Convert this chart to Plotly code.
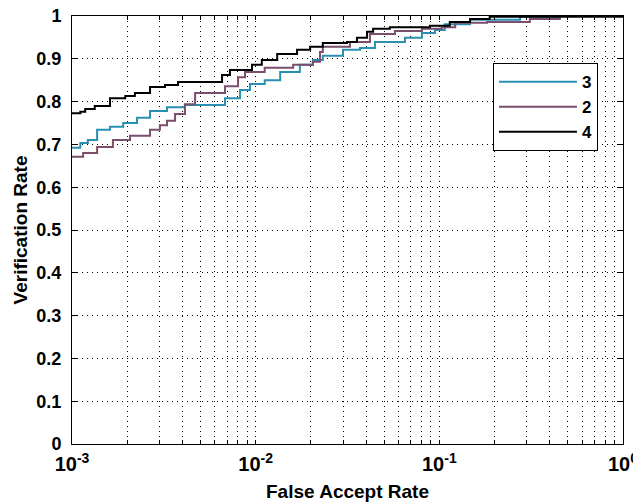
import plotly.graph_objects as go

# ---- data ----
far3 = [0.001, 0.00111, 0.00122, 0.00137, 0.00161, 0.00190, 0.00226, 0.00266, 0.00329, 0.00412,
        0.00681, 0.00822, 0.00931, 0.0112, 0.0136, 0.0174, 0.0205, 0.0232, 0.0299, 0.0370,
        0.0446, 0.0650, 0.0804, 0.0946, 0.107, 0.147, 0.275, 0.453, 1.0]
vr3 = [0.692, 0.703, 0.710, 0.734, 0.741, 0.750, 0.762, 0.778, 0.787, 0.792,
       0.808, 0.827, 0.841, 0.850, 0.869, 0.886, 0.897, 0.907, 0.921, 0.925,
       0.939, 0.949, 0.960, 0.967, 0.981, 0.991, 0.998, 1.0, 1.0]

far2 = [0.001, 0.00115, 0.00137, 0.00167, 0.00207, 0.00266, 0.00301, 0.00329, 0.00364, 0.00412,
        0.00468, 0.00681, 0.00802, 0.00875, 0.0112, 0.0160, 0.0205, 0.0224, 0.0232, 0.0326,
        0.0419, 0.0573, 0.0804, 0.103, 0.122, 0.182, 0.311, 0.453, 1.0]
vr2 = [0.671, 0.680, 0.694, 0.710, 0.720, 0.734, 0.745, 0.755, 0.771, 0.794,
       0.820, 0.836, 0.857, 0.869, 0.879, 0.886, 0.893, 0.916, 0.928, 0.939,
       0.958, 0.965, 0.970, 0.974, 0.984, 0.986, 0.993, 1.0, 1.0]

far4 = [0.001, 0.00111, 0.00118, 0.00133, 0.00161, 0.00195, 0.00220, 0.00266, 0.00321, 0.00378,
        0.00656, 0.00724, 0.00955, 0.0108, 0.0131, 0.0168, 0.0198, 0.0232, 0.0314, 0.0356,
        0.0404, 0.0436, 0.0538, 0.0889, 0.114, 0.147, 0.188, 1.0]
vr4 = [0.773, 0.776, 0.783, 0.790, 0.808, 0.813, 0.820, 0.834, 0.839, 0.846,
       0.862, 0.874, 0.886, 0.897, 0.911, 0.921, 0.928, 0.937, 0.939, 0.949,
       0.963, 0.970, 0.974, 0.977, 0.986, 0.993, 0.998, 1.0]

series_names = ["3", "2", "4"]
series_colors = ["#2a90b2", "#7a4e6c", "#000000"]

y_ticks = [0, 0.1, 0.2, 0.3, 0.4, 0.5, 0.6, 0.7, 0.8, 0.9, 1.0]
y_ticktext = ["0", "0.1", "0.2", "0.3", "0.4", "0.5", "0.6", "0.7", "0.8", "0.9", "1"]
x_decades = [-3, -2, -1]

# ---- tick positions for log axis ----
x_tickvals, x_ticktext = [], []
for d in x_decades:
    for m in range(1, 10):
        x_tickvals.append(m * 10 ** d)
        x_ticktext.append(f"10<sup>{d}</sup>" if m == 1 else "")
x_tickvals.append(1.0)
x_ticktext.append("10<sup>0</sup>")

FONT = "Liberation Sans, Arial, sans-serif"
GRID_DASH = "1px,4px"

fig = go.Figure()
for far, vr, name, col in [(far3, vr3, series_names[0], series_colors[0]),
                           (far2, vr2, series_names[1], series_colors[1]),
                           (far4, vr4, series_names[2], series_colors[2])]:
    fig.add_trace(go.Scatter(x=far, y=vr, mode="lines", name=name,
                             line=dict(color=col, width=2, shape="hv")))

fig.update_layout(
    width=633, height=504,
    margin=dict(l=72, r=10, t=16, b=60, autoexpand=False),
    paper_bgcolor="white", plot_bgcolor="white",
    font=dict(family=FONT, color="black"),
    showlegend=True,
    legend=dict(x=0.764, y=0.89, xanchor="left", yanchor="top",
                bgcolor="white", bordercolor="black", borderwidth=1,
                font=dict(size=17, family=FONT, weight="bold"),
                itemwidth=78),
    xaxis=dict(type="log", range=[-3, 0], automargin=False,
               tickmode="array", tickvals=x_tickvals, ticktext=x_ticktext,
               ticks="inside", ticklen=4, tickcolor="black",
               showline=True, linecolor="black", linewidth=1, mirror="ticks",
               showgrid=True, gridcolor="black", griddash=GRID_DASH, gridwidth=1,
               zeroline=False, ticklabeloverflow="allow", ticklabelstandoff=2,
               tickfont=dict(size=20, family=FONT, weight="bold"),
               title=dict(text="False Accept Rate", standoff=10,
                          font=dict(size=19, family=FONT, weight="bold"))),
    yaxis=dict(range=[0, 1], automargin=False,
               tickmode="array", tickvals=y_ticks, ticktext=y_ticktext,
               ticks="inside", ticklen=5, tickcolor="black",
               showline=True, linecolor="black", linewidth=1, mirror="ticks",
               showgrid=True, gridcolor="black", griddash=GRID_DASH, gridwidth=1,
               zeroline=False, ticklabelstandoff=6,
               tickfont=dict(size=18, family=FONT, weight="bold"),
               title=dict(text="Verification Rate", standoff=3,
                          font=dict(size=19, family=FONT, weight="bold"))),
)

fig.write_html("out.html")
